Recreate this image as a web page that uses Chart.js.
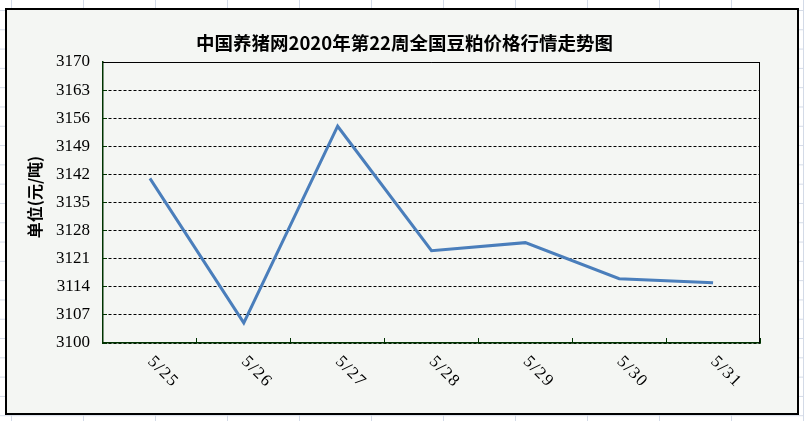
<!DOCTYPE html>
<html lang="zh">
<head>
    <meta charset="UTF-8">
    <title>中国养猪网2020年第22周全国豆粕价格行情走势图</title>
    <script src="https://cdn.jsdelivr.net/npm/chart.js"></script>
    <style>
        body {
            margin: 0;
            width: 804px;
            height: 421px;
            overflow: hidden;
            background-color: #fff;
            background-image:
                linear-gradient(to right, #d3dae7 1px, transparent 1px),
                linear-gradient(to bottom, #d3dae7 1px, transparent 1px);
            background-size: 72px 19.3px;
            background-position: 11px 10px;
        }
        #frame {
            position: absolute;
            left: 5px;
            top: 8px;
            width: 790px;
            height: 403px;
            border: 2px solid #000;
            background: #f4f6f3;
        }
        canvas {
            width: 790px;
            height: 403px;
        }
    </style>
</head>
<body>
    <div id="frame"><canvas id="myChart" width="790" height="403"></canvas></div>

    <script>
        const dates = ['5/25', '5/26', '5/27', '5/28', '5/29', '5/30', '5/31'];
        const prices = [3141, 3105, 3154, 3123, 3125, 3116, 3115];
        const yMin = 3100, yMax = 3170, yStep = 7;
        const chartTitle = '中国养猪网2020年第22周全国豆粕价格行情走势图';
        const yTitle = '单位(元/吨)';

        const tickFont = { family: '"Liberation Serif", serif', size: 17 };

        // x 轴标签顺时针 45°，Chart.js 自带旋转方向相反，这里自己画；标题也自己画
        const extras = {
            id: 'extras',
            afterDraw(chart) {
                const ctx = chart.ctx;
                const x = chart.scales.x;
                ctx.save();
                ctx.fillStyle = '#000';
                ctx.textAlign = 'center';
                ctx.textBaseline = 'middle';

                ctx.font = 'bold 18.5px "Noto Sans CJK SC", sans-serif';
                ctx.fillText(chartTitle, 397.5, 33);

                ctx.font = '17px "Liberation Serif", serif';
                ctx.letterSpacing = '1.5px';
                dates.forEach((d, i) => {
                    ctx.save();
                    ctx.translate(x.getPixelForValue(i) + 13, 362);
                    ctx.rotate(Math.PI / 4);
                    ctx.fillText(d, 0, 0);
                    ctx.restore();
                });
                ctx.letterSpacing = '0px';

                ctx.save();
                ctx.font = 'bold 16px "Noto Sans CJK SC", sans-serif';
                ctx.translate(28, 187);
                ctx.rotate(-Math.PI / 2);
                ctx.fillText(yTitle, 0, 0);
                ctx.restore();

                // 上、右边框
                const a = chart.chartArea;
                ctx.strokeStyle = '#000';
                ctx.lineWidth = 1;
                ctx.beginPath();
                ctx.moveTo(a.left, a.top + 0.5);
                ctx.lineTo(a.right - 0.5, a.top + 0.5);
                ctx.lineTo(a.right - 0.5, a.bottom);
                ctx.stroke();
                ctx.restore();
            }
        };

        new Chart(document.getElementById('myChart'), {
            type: 'line',
            data: {
                labels: dates,
                datasets: [{
                    data: prices,
                    borderColor: '#4a7ebb',
                    borderWidth: 3,
                    pointRadius: 0,
                    tension: 0
                }]
            },
            options: {
                responsive: false,
                animation: false,
                layout: { padding: { left: 0, right: 37, top: 52, bottom: 0 } },
                plugins: {
                    legend: { display: false },
                    tooltip: { enabled: false },
                    title: { display: false }
                },
                scales: {
                    x: {
                        offset: true,
                        grid: {
                            offset: true,
                            drawOnChartArea: false,
                            drawTicks: true,
                            tickLength: -5,
                            color: '#003300'
                        },
                        border: { color: '#003300', width: 1.5 },
                        ticks: { display: false },
                        afterFit(scale) { scale.height = 70; }
                    },
                    y: {
                        min: yMin,
                        max: yMax,
                        ticks: {
                            stepSize: yStep,
                            color: '#000',
                            font: tickFont,
                            padding: 17,
                            callback: v => String(v)
                        },
                        grid: {
                            color: '#000',
                            tickLength: -4,
                            tickColor: '#003300'
                        },
                        border: { color: '#003300', width: 1.5, dash: [3, 2] },
                        afterFit(scale) { scale.width = 96; }
                    }
                }
            },
            plugins: [extras]
        });
    </script>
</body>
</html>
